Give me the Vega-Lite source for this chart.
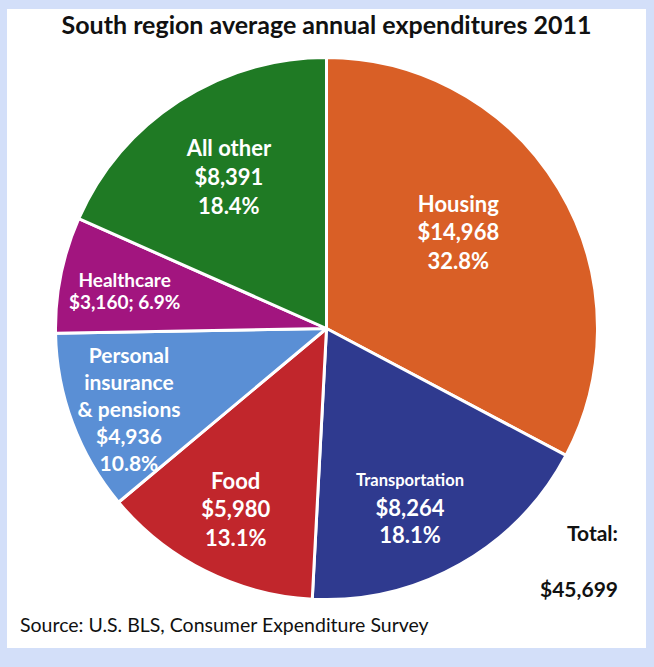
{
  "$schema": "https://vega.github.io/schema/vega-lite/v6.json",
  "background": "#D3DFF9",
  "padding": {"left": 7, "top": 9, "right": 8, "bottom": 19},
  "config": {"view": {"stroke": null}},
  "title": {"text": "Source: U.S. BLS, Consumer Expenditure Survey", "orient": "bottom", "anchor": "start", "offset": -31, "dx": 13, "font": "Lato", "fontSize": 19.5, "fontWeight": "normal", "color": "#111111"},
  "spacing": 0,
  "vconcat": [
    {
      "title": {"text": ["Total:", "$45,699"], "orient": "bottom", "anchor": "end", "align": "right", "offset": -124, "dx": -28, "font": "Lato", "fontSize": 21, "fontWeight": "bold", "lineHeight": 56, "color": "#111111"},
      "spacing": 0,
      "vconcat": [
        {
          "width": 639,
          "height": 639,
          "view": {"fill": "white", "stroke": null},
          "title": {"text": "South region average annual expenditures 2011", "orient": "top", "anchor": "middle", "offset": -30, "font": "Lato", "fontSize": 25, "fontWeight": "bold", "color": "#111111"},
          "data": {"values": [
            {"idx": 1, "category": "Housing", "value": 14968, "pct": 32.8, "label": "Housing\n$14,968\n32.8%"},
            {"idx": 2, "category": "Transportation", "value": 8264, "pct": 18.1, "label": "$8,264\n18.1%"},
            {"idx": 3, "category": "Food", "value": 5980, "pct": 13.1, "label": "Food\n$5,980\n13.1%"},
            {"idx": 4, "category": "Personal insurance & pensions", "value": 4936, "pct": 10.8, "label": "Personal\ninsurance\n& pensions\n$4,936\n10.8%"},
            {"idx": 5, "category": "Healthcare", "value": 3160, "pct": 6.9, "label": "Healthcare\n$3,160; 6.9%"},
            {"idx": 6, "category": "All other", "value": 8391, "pct": 18.4, "label": "All other\n$8,391\n18.4%"}
          ]},
          "encoding": {
            "theta": {"field": "value", "type": "quantitative", "stack": true},
            "order": {"field": "idx", "type": "quantitative"}
          },
          "layer": [
            {
              "mark": {"type": "arc", "outerRadius": 271, "stroke": "white", "strokeWidth": 3, "strokeJoin": "round"},
              "encoding": {
                "color": {"field": "category", "type": "nominal", "legend": null,
                  "scale": {"domain": ["Housing", "Transportation", "Food", "Personal insurance & pensions", "Healthcare", "All other"],
                            "range": ["#D95F26", "#2F3A8F", "#C1262C", "#5A8FD5", "#A2157F", "#1F7A24"]}}
              }
            },
            {
              "mark": {"type": "text", "radius": 162, "font": "Lato", "fontSize": 22, "fontWeight": "bold", "fill": "white", "lineBreak": "\n", "lineHeight": 28.5, "align": "center", "baseline": "middle", "dx": -7, "dy": -40},
              "encoding": {"text": {"condition": {"test": "datum.category === 'Housing'", "field": "label"}, "value": ""}}
            },
            {
              "mark": {"type": "text", "radius": 179, "font": "Lato", "fontSize": 22, "fontWeight": "bold", "fill": "white", "lineBreak": "\n", "lineHeight": 29, "align": "center", "baseline": "middle", "dy": -29},
              "encoding": {"text": {"condition": {"test": "datum.category === 'All other'", "field": "label"}, "value": ""}}
            },
            {
              "mark": {"type": "text", "radius": 203, "font": "Lato", "fontSize": 22, "fontWeight": "bold", "fill": "white", "lineBreak": "\n", "lineHeight": 28.5, "align": "center", "baseline": "middle", "dy": -28.5},
              "encoding": {"text": {"condition": {"test": "datum.category === 'Food'", "field": "label"}, "value": ""}}
            },
            {
              "mark": {"type": "text", "radius": 212, "font": "Lato", "fontSize": 22, "fontWeight": "bold", "fill": "white", "lineBreak": "\n", "lineHeight": 27, "align": "center", "baseline": "middle", "dx": -21, "dy": -3.5},
              "encoding": {"text": {"condition": {"test": "datum.category === 'Transportation'", "field": "label"}, "value": ""}}
            },
            {
              "mark": {"type": "text", "radius": 212, "font": "Lato", "fontSize": 16.5, "fontWeight": "bold", "fill": "white", "align": "center", "baseline": "middle", "dx": -21, "dy": -32},
              "encoding": {"text": {"condition": {"test": "datum.category === 'Transportation'", "field": "category"}, "value": ""}}
            },
            {
              "mark": {"type": "text", "radius": 214, "font": "Lato", "fontSize": 21, "fontWeight": "bold", "fill": "white", "lineBreak": "\n", "lineHeight": 27, "align": "center", "baseline": "middle", "dx": 3, "dy": -46},
              "encoding": {"text": {"condition": {"test": "datum.category === 'Personal insurance & pensions'", "field": "label"}, "value": ""}}
            },
            {
              "mark": {"type": "text", "radius": 206, "font": "Lato", "fontSize": 19, "fontWeight": "bold", "fill": "white", "lineBreak": "\n", "lineHeight": 22, "align": "center", "baseline": "middle", "dy": -7},
              "encoding": {"text": {"condition": {"test": "datum.category === 'Healthcare'", "field": "label"}, "value": ""}}
            }
          ]
        }
      ]
    }
  ]
}
